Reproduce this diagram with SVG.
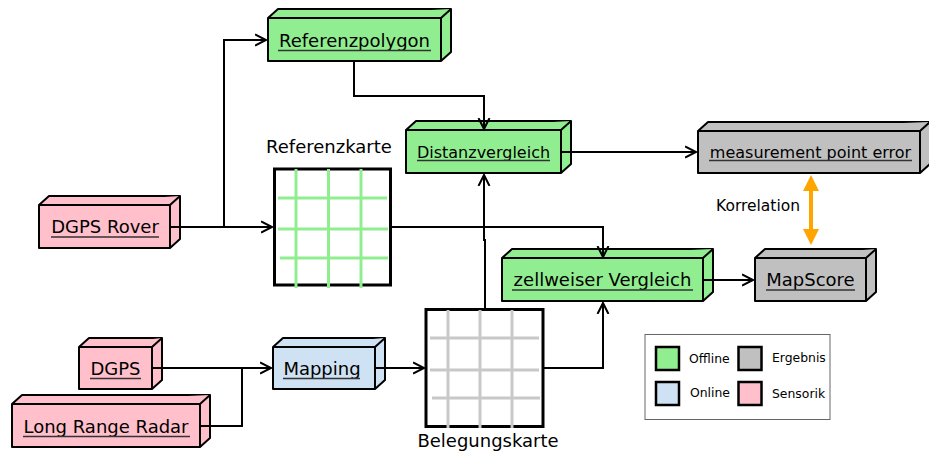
<svg xmlns="http://www.w3.org/2000/svg" width="929" height="459" viewBox="0 0 929 459">
  <style>
    .box { stroke: #000; stroke-width: 2; stroke-linejoin: round; }
    .offline { fill: #90ee90; }
    .online { fill: #cfe2f3; }
    .result { fill: #c0c0c0; }
    .sensor { fill: #ffc0cb; }
    .lbl { font-family: "DejaVu Sans", sans-serif; font-size: 18px; fill: #000; text-anchor: middle; }
    .small { font-size: 16px; }
    .ul { stroke: #333; stroke-width: 1.4; }
    .conn { fill: none; stroke: #000; stroke-width: 2; }
    .map { fill: #fff; stroke: #000; stroke-width: 3; }
    .gridG { stroke: #90ee90; stroke-width: 3; }
    .gridY { stroke: #c8c8c8; stroke-width: 3; }
    .cap { font-family: "DejaVu Sans", sans-serif; font-size: 18px; fill: #000; text-anchor: middle; }
    .leg { font-family: "DejaVu Sans", sans-serif; font-size: 12.4px; fill: #000; }
    .sw { stroke: #000; stroke-width: 2.5; }
  </style>
  <defs>
    <marker id="arr" markerUnits="userSpaceOnUse" markerWidth="14" markerHeight="14" refX="11" refY="6" orient="auto" viewBox="0 0 14 12">
      <path d="M0,0.5 L11,6 L0,11.5" fill="none" stroke="#000" stroke-width="2"/>
    </marker>
  </defs>

  <!-- 3D boxes: front face, top face, right face -->
  <g id="referenzpolygon">
    <path class="box offline" d="M268,18 L278,9 H451 V52 L441,61 H268 Z"/>
    <path class="box offline" d="M268,18 H441 L451,9 M441,18 V61"/>
    <text class="lbl" x="354.5" y="46.5">Referenzpolygon</text>
    <line class="ul" x1="278" y1="50.5" x2="431" y2="50.5"/>
  </g>

  <g id="distanzvergleich">
    <path class="box offline" d="M406,130 L416,121 H571 V164 L561,173 H406 Z"/>
    <path class="box offline" d="M406,130 H561 L571,121 M561,130 V173"/>
    <text class="lbl small" x="483.5" y="157.5">Distanzvergleich</text>
    <line class="ul" x1="417" y1="160.5" x2="550" y2="160.5"/>
  </g>

  <g id="measurement-point-error">
    <path class="box result" d="M698,131 L708,122 H930 V164 L920,173 H698 Z"/>
    <path class="box result" d="M698,131 H920 L930,122 M920,131 V173"/>
    <text class="lbl small" x="810.5" y="157.5">measurement point error</text>
    <line class="ul" x1="709" y1="160.5" x2="912" y2="160.5"/>
  </g>

  <g id="dgps-rover">
    <path class="box sensor" d="M39,205 L49,196 H180 V239 L170,248 H39 Z"/>
    <path class="box sensor" d="M39,205 H170 L180,196 M170,205 V248"/>
    <text class="lbl" x="105" y="233">DGPS Rover</text>
    <line class="ul" x1="51" y1="237" x2="159" y2="237"/>
  </g>

  <g id="zellweiser-vergleich">
    <path class="box offline" d="M502,258 L512,249 H713 V292 L703,301 H502 Z"/>
    <path class="box offline" d="M502,258 H703 L713,249 M703,258 V301"/>
    <text class="lbl" x="602.5" y="286">zellweiser Vergleich</text>
    <line class="ul" x1="512" y1="290" x2="693" y2="290"/>
  </g>

  <g id="mapscore">
    <path class="box result" d="M755,258 L765,249 H876 V292 L866,301 H755 Z"/>
    <path class="box result" d="M755,258 H866 L876,249 M866,258 V301"/>
    <text class="lbl" x="810.5" y="286">MapScore</text>
    <line class="ul" x1="766" y1="290" x2="855" y2="290"/>
  </g>

  <g id="dgps">
    <path class="box sensor" d="M79,347 L89,338 H162 V380 L152,389 H79 Z"/>
    <path class="box sensor" d="M79,347 H152 L162,338 M152,347 V389"/>
    <text class="lbl" x="115.5" y="374.5">DGPS</text>
    <line class="ul" x1="90" y1="378.5" x2="141" y2="378.5"/>
  </g>

  <g id="mapping">
    <path class="box online" d="M273,347 L283,338 H385 V380 L375,389 H273 Z"/>
    <path class="box online" d="M273,347 H375 L385,338 M375,347 V389"/>
    <text class="lbl" x="322" y="374.5">Mapping</text>
    <line class="ul" x1="283" y1="378.5" x2="360" y2="378.5"/>
  </g>

  <g id="long-range-radar">
    <path class="box sensor" d="M12,404 L22,395 H210 V438 L200,447 H12 Z"/>
    <path class="box sensor" d="M12,404 H200 L210,395 M200,404 V447"/>
    <text class="lbl" x="106" y="432.5">Long Range Radar</text>
    <line class="ul" x1="23" y1="436.5" x2="190" y2="436.5"/>
  </g>

  <!-- reference map -->
  <g id="referenzkarte">
    <rect class="map" x="274.5" y="169" width="116" height="116"/>
    <line class="gridG" x1="296" y1="169" x2="296" y2="288"/>
    <line class="gridG" x1="328.5" y1="169" x2="328.5" y2="288"/>
    <line class="gridG" x1="361" y1="169" x2="361" y2="288"/>
    <line class="gridG" x1="278" y1="198" x2="387" y2="198"/>
    <line class="gridG" x1="278" y1="229" x2="388" y2="229"/>
    <line class="gridG" x1="280" y1="258" x2="388" y2="258"/>
    <text class="cap" x="329" y="152.5">Referenzkarte</text>
  </g>

  <!-- occupancy map -->
  <g id="belegungskarte">
    <rect class="map" x="426" y="309.5" width="117" height="117"/>
    <line class="gridY" x1="448" y1="310" x2="448" y2="428"/>
    <line class="gridY" x1="480" y1="310" x2="480" y2="428"/>
    <line class="gridY" x1="512" y1="310" x2="512" y2="428"/>
    <line class="gridY" x1="430" y1="338" x2="539" y2="338"/>
    <line class="gridY" x1="430" y1="370" x2="539" y2="370"/>
    <line class="gridY" x1="432" y1="398" x2="540" y2="398"/>
    <text class="cap" x="488" y="447">Belegungskarte</text>
  </g>

  <!-- legend -->
  <g id="legend">
    <rect x="645" y="334.5" width="185" height="85" fill="#fff" stroke="#666" stroke-width="1"/>
    <rect class="sw offline" x="656" y="347" width="23" height="23"/>
    <text class="leg" x="689" y="363">Offline</text>
    <rect class="sw result" x="738.5" y="347" width="23" height="23"/>
    <text class="leg" x="772" y="362">Ergebnis</text>
    <rect class="sw online" x="656" y="382" width="23" height="23"/>
    <text class="leg" x="690" y="397">Online</text>
    <rect class="sw sensor" x="738.5" y="382" width="23" height="23"/>
    <text class="leg" x="772" y="398">Sensorik</text>
  </g>

  <!-- connectors, drawn over the boxes so they reach the front faces -->
  <g id="connectors">
    <path class="conn" d="M170,227 H272" marker-end="url(#arr)"/>
    <path class="conn" d="M224,227 V40 H266" marker-end="url(#arr)"/>
    <path class="conn" d="M354,62 V96 H484 V129" marker-end="url(#arr)"/>
    <path class="conn" d="M562,152 H696" marker-end="url(#arr)"/>
    <path class="conn" d="M392,227 H603 V257" marker-end="url(#arr)"/>
    <path class="conn" d="M485,308 V240 H484 V175" marker-end="url(#arr)"/>
    <path class="conn" d="M544,368 H603 V303" marker-end="url(#arr)"/>
    <path class="conn" d="M704,280 H753" marker-end="url(#arr)"/>
    <path class="conn" d="M153,368 H271" marker-end="url(#arr)"/>
    <path class="conn" d="M201,426 H242 V368"/>
    <path class="conn" d="M376,368 H424" marker-end="url(#arr)"/>
    <!-- correlation -->
    <g id="korrelation">
      <line x1="811" y1="188" x2="811" y2="232" stroke="#ffa500" stroke-width="4"/>
      <polygon points="811,175 803,191 819,191" fill="#ffa500"/>
      <polygon points="811,245 803,229 819,229" fill="#ffa500"/>
      <text x="716" y="211" font-family="DejaVu Sans, sans-serif" font-size="15.5" fill="#000">Korrelation</text>
    </g>
  </g>
</svg>
